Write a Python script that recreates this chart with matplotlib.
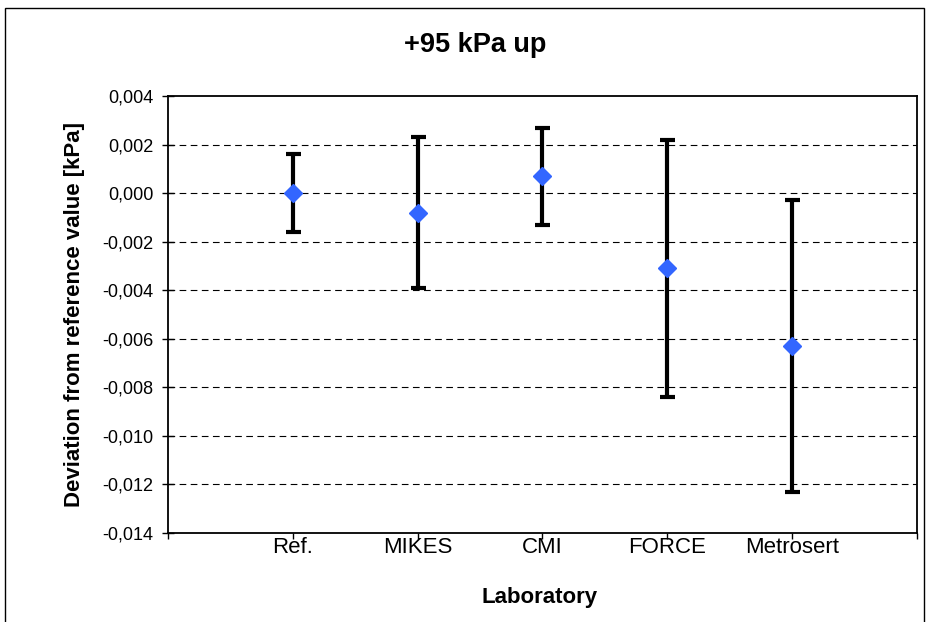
import matplotlib.pyplot as plt
from matplotlib.patches import Rectangle
from matplotlib.ticker import FuncFormatter, MultipleLocator

plt.rcParams['font.family'] = ['Liberation Sans', 'DejaVu Sans']

# data
labs = ['Ref.', 'MIKES', 'CMI', 'FORCE', 'Metrosert']
deviation = [0.0000, -0.0008, 0.0007, -0.0031, -0.0063]
uncert = [0.0016, 0.0031, 0.0020, 0.0053, 0.0060]

W, H = 928, 622
fig = plt.figure(figsize=(W / 100, H / 100), dpi=100)
ax = fig.add_axes([168 / W, 1 - 533 / H, (917 - 168) / W, (533 - 96) / H])

# outer chart border (bottom edge is cut off in the original)
fig.patches.append(Rectangle((5 / W, -0.05), 919 / W, 1.05 - 8 / H,
                             transform=fig.transFigure, fill=False,
                             edgecolor='black', linewidth=1.0))

pos = list(range(1, len(labs) + 1))
ax.errorbar(pos, deviation, yerr=uncert, fmt='none', ecolor='black',
            elinewidth=3, capsize=5.4, capthick=3, zorder=3)
ax.plot(pos, deviation, linestyle='none', marker='D', markersize=9.5,
        color='#3366FF', zorder=4)

ax.set_xlim(0, 6)
ax.set_ylim(-0.014, 0.004)
ax.yaxis.set_major_locator(MultipleLocator(0.002))
ax.yaxis.set_major_formatter(FuncFormatter(lambda v, p: f'{v:.3f}'.replace('.', ',').replace('-0,000', '0,000')))
ax.set_xticks(range(0, 7))
ax.set_xticklabels([''] + labs + [''])

for y in [-0.012, -0.010, -0.008, -0.006, -0.004, -0.002, 0.000, 0.002]:
    ax.axhline(y, color='black', linewidth=0.8, dashes=(6, 4), zorder=1)

for s in ax.spines.values():
    s.set_linewidth(1.3)
ax.tick_params(axis='y', direction='inout', length=9, width=1, labelsize=13, pad=6)
ax.tick_params(axis='x', direction='out', length=4, width=1, labelsize=16, pad=-1)

fig.text(474.7 / W, 1 - 45 / H, '+95 kPa up', fontsize=19.5, fontweight='bold',
         ha='center', va='center')
fig.text(75 / W, 1 - 314.5 / H, 'Deviation from reference value [kPa]', fontsize=16,
         fontweight='bold', rotation=90, ha='center', va='center')
fig.text(540 / W, 1 - 598 / H, 'Laboratory', fontsize=16, fontweight='bold',
         ha='center', va='center')

fig.savefig('out.png', dpi=100)
